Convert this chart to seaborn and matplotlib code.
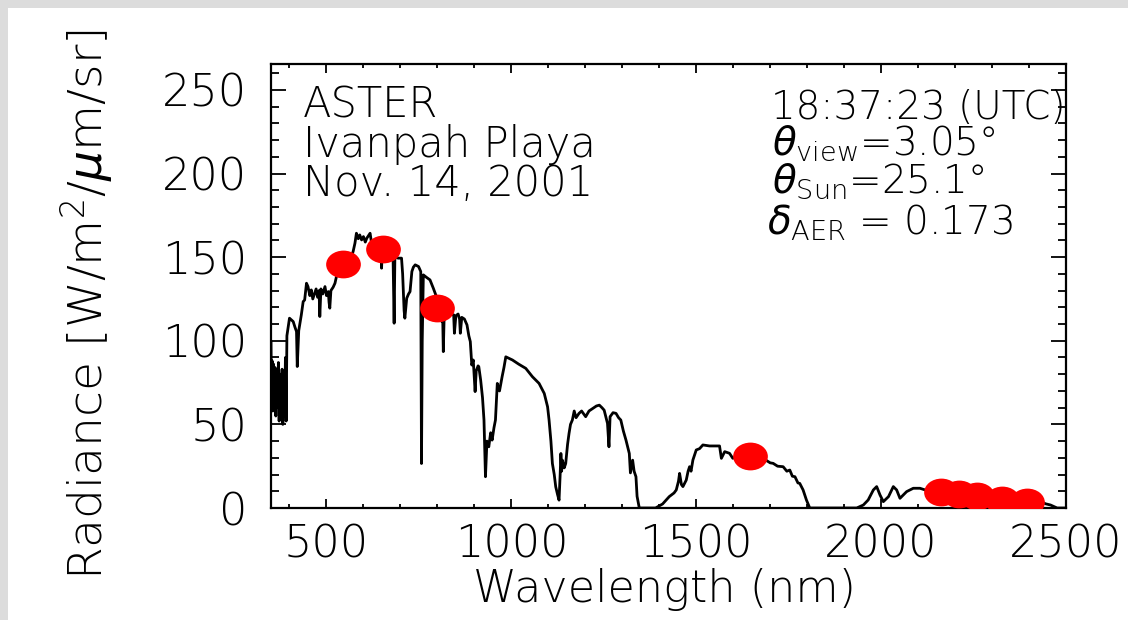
import matplotlib
matplotlib.use("Agg")
import matplotlib.pyplot as plt
import pandas as pd
import seaborn as sns
from matplotlib.markers import MarkerStyle
from matplotlib.patches import Rectangle
from matplotlib.ticker import MultipleLocator
from matplotlib.transforms import Affine2D, ScaledTranslation

# Field-measured at-sensor radiance spectrum (nm, W/m^2/um/sr)
wavelength = [
    350, 351, 353, 355, 357, 359, 361, 363, 366, 368, 370, 372, 375, 377, 380,
    382, 385, 387, 389, 391, 393, 400, 410, 415, 419, 421, 425, 432, 437, 441,
    446, 450, 455, 459, 463, 468, 472, 476, 480, 482, 485, 490, 496, 500, 505,
    507, 509, 512, 518, 523, 527, 532, 536, 545, 555, 563, 568, 572, 577, 581,
    586, 590, 595, 600, 605, 609, 614, 618, 622, 630, 640, 647, 649, 651, 660,
    670, 680, 683, 685, 694, 703, 706, 708, 710, 712, 715, 717, 722, 726, 731,
    735, 740, 749, 755, 757, 759, 762, 770, 780, 789, 798, 805, 812, 814, 816,
    818, 826, 835, 844, 846, 850, 856, 860, 862, 866, 873, 880, 885, 889, 893,
    897, 902, 905, 910, 912, 917, 922, 926, 930, 934, 939, 944, 948, 953, 957,
    962, 968, 975, 980, 985, 1003, 1020, 1039, 1057, 1075, 1089, 1098, 1102,
    1107, 1111, 1116, 1120, 1125, 1129, 1132, 1134, 1136, 1138, 1143, 1147,
    1152, 1156, 1160, 1165, 1170, 1175, 1183, 1190, 1201, 1210, 1220, 1230,
    1238, 1245, 1251, 1260, 1264, 1267, 1275, 1283, 1290, 1296, 1303, 1310,
    1315, 1319, 1322, 1328, 1332, 1337, 1340, 1346, 1390, 1409, 1427, 1440,
    1446, 1452, 1455, 1460, 1464, 1473, 1478, 1482, 1486, 1491, 1500, 1509,
    1518, 1536, 1563, 1568, 1577, 1590, 1599, 1610, 1625, 1645, 1665, 1685,
    1700, 1708, 1720, 1735, 1745, 1753, 1760, 1767, 1775, 1780, 1789, 1798,
    1807, 1934, 1952, 1965, 1979, 1988, 1997, 2006, 2020, 2033, 2042, 2051,
    2069, 2087, 2105, 2119, 2140, 2165, 2210, 2260, 2330, 2395, 2431, 2445,
    2458, 2476, 2500,
]
radiance = [
    100, 70, 88, 58, 86, 62, 84, 55, 82, 60, 87, 52, 80, 56, 83,
    50, 78, 55, 90, 52, 103, 113.5, 111.5, 108, 105.5, 84.6, 106, 115.5, 123.4, 124.4,
    134.4, 132.4, 127, 130.4, 125, 128.4, 131, 126, 130, 114.5, 131, 128, 132.4, 127, 129.4,
    123, 119.5, 130, 132, 134.4, 138.4, 140, 139.4, 146, 147, 145.4, 151, 153.3, 158.3, 164.3,
    161, 163.3, 160.3, 162.3, 159, 161.3, 163, 164.3, 158.3, 157, 155, 154, 143.4, 154, 155,
    153, 151, 110.5, 150, 149.4, 149.4, 140, 129.4, 118, 113.5, 121, 125.4, 128, 129.4, 141.4,
    144, 145.4, 144.4, 141.4, 26.6, 100, 139.4, 138, 136.4, 131.4, 126, 120, 111.5, 118, 93.5,
    112, 117, 116, 115.5, 104.5, 115, 116, 113, 104.5, 114, 113, 109.5, 103, 99.5, 85.5,
    88.5, 69.6, 82, 85, 84.5, 76.5, 66, 52.6, 18.7, 40, 36.6, 45, 40.6, 48, 52.6,
    74.5, 70, 78.5, 84, 90.4, 88.5, 86, 83.5, 78.5, 74.5, 68.5, 60.5, 52.6,
    40, 26.6, 20, 12.7, 8, 4.7, 20, 32.6, 22, 28.6, 24, 26.6,
    38, 44.6, 50, 52.6, 58, 54, 56.6, 58, 54.6, 58, 59.5, 61,
    61.5, 60, 58.5, 50.6, 36.6, 54.6, 57, 56.6, 54, 52.6, 46, 40.6,
    36, 32.6, 21, 28.6, 22, 18.7, 7, 0, 0, 2.4, 6.8, 9,
    10.8, 16, 20.7, 14, 12.8, 16.7, 22, 24.7, 22, 28.7, 34.7, 35.5,
    37.7, 37.1, 37.1, 29.7, 33.7, 32.7, 29.7, 31, 31.5, 31, 30.5, 29.1,
    27, 26.7, 25, 24.7, 22, 22.7, 19, 18.7, 15, 14.7, 10.8, 4.8,
    0, 0, 1.8, 4.8, 10.8, 12.8, 7.8, 3.8, 6.8, 12.8, 10.8, 5.8,
    9.8, 11.8, 11.8, 10.8, 10, 9.5, 8.5, 7.5, 5.5, 4.5, 3.8, 2.5,
    1.8, 0, 0,
]

# ASTER band-averaged radiances
band_center = [546, 652, 800, 1646, 2162, 2210, 2258, 2327, 2395]
band_radiance = [146, 155, 119.5, 31.3, 9.4, 8.4, 7.4, 5.0, 3.8]

spectrum = pd.DataFrame({"wavelength": wavelength, "radiance": radiance})
bands = pd.DataFrame({"wavelength": band_center, "radiance": band_radiance})

sns.set_theme(style="ticks")
plt.rcParams["font.family"] = ["DejaVu Sans"]
plt.rcParams["font.weight"] = "light"
plt.rcParams["axes.labelweight"] = "light"
plt.rcParams["mathtext.fontset"] = "dejavusans"
plt.rcParams["text.color"] = "black"
plt.rcParams["axes.labelcolor"] = "black"
plt.rcParams["xtick.color"] = "black"
plt.rcParams["ytick.color"] = "black"

FS = 32
FS_NOTE = 30
FS_GEOM = 28

fig = plt.figure(figsize=(11.28, 6.2), dpi=100, facecolor="#dcdcdc")
fig.add_artist(Rectangle((8 / 1128, 0), 1, 1 - 8 / 620, transform=fig.transFigure,
                         facecolor="white", edgecolor="none", zorder=-5))

ax = fig.add_axes([271 / 1128, 1 - 508 / 620, 795 / 1128, 444 / 620])
ax.set_facecolor("white")

sns.lineplot(data=spectrum, x="wavelength", y="radiance", ax=ax, color="black",
             lw=2.0, sort=False, estimator=None, zorder=2)
sns.scatterplot(data=bands, x="wavelength", y="radiance", ax=ax, color="red", s=400,
                marker=MarkerStyle("o", transform=Affine2D().scale(1.25, 1.0)),
                linewidth=0, zorder=3)

ax.set_xlim(350, 2500)
ax.set_ylim(0, 265.5)
ax.xaxis.set_major_locator(MultipleLocator(500))
ax.xaxis.set_minor_locator(MultipleLocator(100))
ax.yaxis.set_major_locator(MultipleLocator(50))
ax.yaxis.set_minor_locator(MultipleLocator(10))

ax.tick_params(which="both", direction="in", top=True, right=True, width=1.3,
               labelsize=FS)
ax.tick_params(axis="x", which="major", length=6.5, pad=11)
ax.tick_params(axis="x", which="minor", length=3.2)
ax.tick_params(axis="y", which="major", length=11, pad=17)
ax.tick_params(axis="y", which="minor", length=5.8)
for sp in ax.spines.values():
    sp.set_linewidth(1.6)
    sp.set_color("black")

ax.set_xlabel("Wavelength (nm)", fontsize=FS, fontweight="light")
ax.xaxis.label.set_va("baseline")
ax.xaxis.set_label_coords(0.495, (508 - 602) / 444)
ax.set_ylabel(r"Radiance [W/m$^2$/$\mu$m/sr]", fontsize=FS + 2, fontweight="light")
ax.yaxis.set_label_coords((115 - 271) / 795, 0.457)

fig.canvas.draw()
zero_label = ax.get_yticklabels()[0]
zero_label.set_transform(zero_label.get_transform()
                         + ScaledTranslation(0, 0.15, fig.dpi_scale_trans))

# Scene annotation, left block
for txt, yb in [("ASTER", 118), ("Ivanpah Playa", 157), ("Nov. 14, 2001", 196)]:
    fig.text(303 / 1128, 1 - yb / 620, txt, fontsize=FS_NOTE, ha="left", va="baseline")

# Acquisition geometry, right block
for txt, xc, yb in [
    ("18:37:23 (UTC)", 918, 119),
    (r"$\theta_{\rm view}$=3.05°", 884, 155),
    (r"$\theta_{\rm Sun}$=25.1°", 878, 193),
    (r"$\delta_{\rm AER}$ = 0.173", 890, 235),
]:
    fig.text(xc / 1128, 1 - yb / 620, txt, fontsize=FS_GEOM, ha="center", va="baseline")

fig.savefig("out.png", dpi=100, facecolor=fig.get_facecolor())
